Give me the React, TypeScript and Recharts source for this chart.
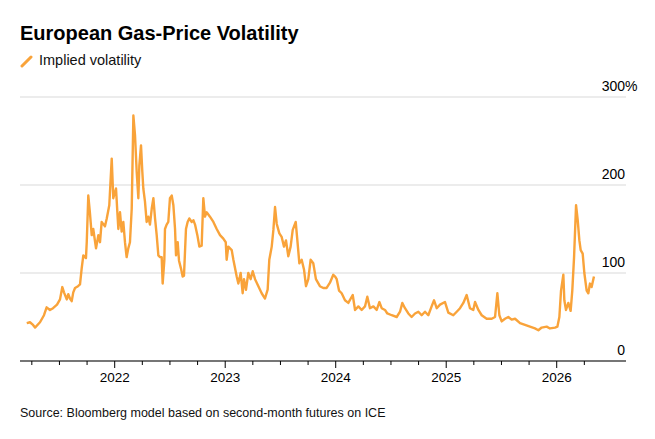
import React from 'react';
import { LineChart, Line, XAxis, YAxis, CartesianGrid } from 'recharts';

// implied volatility (%); dates are decimal years
const dates2021 = [2021.204, 2021.233, 2021.261, 2021.279, 2021.324, 2021.36, 2021.384, 2021.414, 2021.442, 2021.46, 2021.478, 2021.505, 2021.526, 2021.541, 2021.566, 2021.58, 2021.595, 2021.611, 2021.625, 2021.641, 2021.668, 2021.686, 2021.701, 2021.716, 2021.74, 2021.747, 2021.761, 2021.776, 2021.792, 2021.806, 2021.831, 2021.852, 2021.867, 2021.882, 2021.912, 2021.928, 2021.951, 2021.973, 2021.987];
const vol2021 = [43, 44, 41, 38, 44, 52, 61, 58, 60, 62, 64, 70, 84, 78, 70, 76, 71, 68, 78, 83, 85, 87, 105, 120, 117, 135, 188, 168, 143, 150, 128, 143, 135, 158, 153, 162, 177, 230, 185];

const dates2022 = [2022.012, 2022.024, 2022.033, 2022.048, 2022.063, 2022.078, 2022.093, 2022.108, 2022.123, 2022.138, 2022.154, 2022.169, 2022.184, 2022.199, 2022.214, 2022.223, 2022.238, 2022.25, 2022.259, 2022.274, 2022.289, 2022.304, 2022.319, 2022.335, 2022.35, 2022.365, 2022.38, 2022.395, 2022.41, 2022.425, 2022.434, 2022.449, 2022.455, 2022.47, 2022.485, 2022.5, 2022.516, 2022.531, 2022.546, 2022.555, 2022.57, 2022.582, 2022.6, 2022.615, 2022.627, 2022.645, 2022.66, 2022.675, 2022.697, 2022.712, 2022.727, 2022.748, 2022.766, 2022.787, 2022.802, 2022.817, 2022.832, 2022.862, 2022.893, 2022.923, 2022.953, 2022.983];
const vol2022 = [196, 169, 150, 169, 147, 158, 135, 118, 128, 135, 173, 279, 256, 215, 185, 222, 245, 215, 196, 181, 158, 164, 155, 173, 185, 162, 143, 120, 118, 118, 88, 114, 150, 155, 158, 185, 188, 177, 150, 120, 135, 114, 105, 96, 97, 150, 158, 162, 158, 160, 155, 143, 130, 131, 185, 164, 169, 164, 158, 150, 143, 139];

const dates2023 = [2023.005, 2023.013, 2023.028, 2023.059, 2023.074, 2023.104, 2023.119, 2023.14, 2023.158, 2023.17, 2023.188, 2023.209, 2023.23, 2023.249, 2023.27, 2023.3, 2023.33, 2023.36, 2023.384, 2023.399, 2023.421, 2023.436, 2023.451, 2023.466, 2023.49, 2023.511, 2023.532, 2023.55, 2023.571, 2023.592, 2023.611, 2023.638, 2023.653, 2023.671, 2023.692, 2023.713, 2023.731, 2023.752, 2023.773, 2023.797, 2023.821, 2023.857, 2023.888, 2023.918, 2023.948, 2023.978, 2023.995];
const vol2023 = [135, 115, 130, 126, 115, 96, 88, 100, 77, 93, 81, 100, 93, 102, 93, 85, 77, 71, 81, 115, 130, 149, 175, 156, 145, 141, 130, 137, 119, 130, 149, 158, 137, 111, 115, 104, 85, 93, 115, 111, 93, 85, 83, 83, 89, 98, 96];

const dates2024 = [2024.009, 2024.03, 2024.054, 2024.084, 2024.114, 2024.154, 2024.175, 2024.205, 2024.235, 2024.265, 2024.286, 2024.31, 2024.341, 2024.371, 2024.395, 2024.416, 2024.446, 2024.467, 2024.507, 2024.552, 2024.582, 2024.603, 2024.627, 2024.657, 2024.687, 2024.718, 2024.748, 2024.778, 2024.808, 2024.838, 2024.868, 2024.89, 2024.914, 2024.944, 2024.989];
const vol2024 = [93, 80, 77, 69, 66, 75, 58, 62, 58, 62, 73, 60, 62, 58, 67, 60, 58, 54, 52, 50, 56, 66, 60, 54, 50, 54, 56, 52, 56, 52, 62, 69, 60, 64, 67];

const dates2025 = [2025.019, 2025.064, 2025.095, 2025.125, 2025.155, 2025.185, 2025.215, 2025.245, 2025.261, 2025.291, 2025.321, 2025.366, 2025.412, 2025.442, 2025.463, 2025.481, 2025.502, 2025.532, 2025.562, 2025.592, 2025.623, 2025.668, 2025.713, 2025.758, 2025.803, 2025.834, 2025.864, 2025.909, 2025.939, 2025.985];
const vol2025 = [55, 52, 56, 60, 66, 75, 60, 58, 67, 58, 52, 48, 48, 50, 77, 52, 45, 48, 50, 47, 48, 43, 41, 39, 37, 35, 38, 39, 37, 38];

const dates2026 = [2026.006, 2026.024, 2026.039, 2026.06, 2026.069, 2026.084, 2026.105, 2026.126, 2026.141, 2026.157, 2026.175, 2026.19, 2026.205, 2026.217, 2026.235, 2026.25, 2026.271, 2026.286, 2026.301, 2026.316, 2026.337];
const vol2026 = [39, 50, 80, 98, 69, 58, 66, 57, 80, 118, 177, 160, 137, 126, 122, 100, 80, 77, 88, 84, 96];

const quarterTicks = [
  2021.25, 2021.5, 2021.75, 2022, 2022.25, 2022.5, 2022.75, 2023, 2023.25, 2023.5, 2023.75,
  2024, 2024.25, 2024.5, 2024.75, 2025, 2025.25, 2025.5, 2025.75, 2026, 2026.25,
];
const yTicks = [0, 100, 200, 300];

const allDates = [...dates2021, ...dates2022, ...dates2023, ...dates2024, ...dates2025, ...dates2026];
const allVols = [...vol2021, ...vol2022, ...vol2023, ...vol2024, ...vol2025, ...vol2026];
const data = allDates.map((t, i) => ({ t, v: allVols[i] }));

const FONT = '"Liberation Sans", Arial, Helvetica, sans-serif';
const ORANGE = '#f9a33a';

function DateTick(props: any) {
  const { x, y, payload } = props;
  const isYear = Number.isInteger(payload.value);
  return (
    <g>
      <line x1={x} x2={x} y1={y} y2={y + (isYear ? 7 : 4)} stroke="#000" strokeWidth={1} />
      {isYear && (
        <text x={x} y={y + 21} textAnchor="middle" fontSize={13.5} fill="#000" fontFamily={FONT}>
          {payload.value}
        </text>
      )}
    </g>
  );
}

function PctTick(props: any) {
  const { x, y, payload } = props;
  return (
    <g fontFamily={FONT} fontSize={14} fill="#000">
      <text x={x - 1} y={y - 6} textAnchor="end">{payload.value}</text>
      {payload.value === 300 && <text x={x - 1} y={y - 6} textAnchor="start">%</text>}
    </g>
  );
}

export default function App() {
  return (
    <div style={{ position: 'relative', width: 655, height: 439, background: '#fff', fontFamily: FONT, color: '#000' }}>
      <style>{'body{margin:0}'}</style>
      <div style={{ position: 'absolute', left: 20, top: 23, fontSize: 20, lineHeight: '20px', fontWeight: 700, whiteSpace: 'nowrap' }}>
        European Gas-Price Volatility
      </div>
      <div style={{ position: 'absolute', left: 20, top: 52, height: 16, display: 'flex', alignItems: 'center' }}>
        <svg width={14} height={14} style={{ position: 'absolute', left: 0, top: 2 }}>
          <line x1={2} y1={12} x2={11} y2={3} stroke={ORANGE} strokeWidth={3} strokeLinecap="round" />
        </svg>
        <span style={{ position: 'absolute', left: 19, top: 1, fontSize: 14.5, lineHeight: '14.5px', whiteSpace: 'nowrap', color: '#111' }}>
          Implied volatility
        </span>
      </div>
      <div style={{ position: 'absolute', left: 0, top: 0 }}>
        <LineChart width={655} height={439} data={data} margin={{ top: 97, right: 0, bottom: 48, left: 20 }}>
          <CartesianGrid vertical={false} stroke="#d9d9d9" strokeWidth={1} />
          <XAxis
            dataKey="t"
            type="number"
            domain={[2021.143, 2026.627]}
            ticks={quarterTicks}
            interval={0}
            height={30}
            tickSize={0}
            tickMargin={0}
            tickLine={false}
            axisLine={{ stroke: '#000', strokeWidth: 1 }}
            tick={<DateTick />}
            allowDataOverflow
          />
          <YAxis
            orientation="right"
            domain={[0, 300]}
            ticks={yTicks}
            width={29}
            tickSize={0}
            tickMargin={0}
            tickLine={false}
            axisLine={false}
            tick={<PctTick />}
          />
          <Line
            type="linear"
            dataKey="v"
            stroke={ORANGE}
            strokeWidth={2.4}
            strokeLinejoin="round"
            dot={false}
            isAnimationActive={false}
          />
        </LineChart>
      </div>
      <div style={{ position: 'absolute', left: 20, top: 407, fontSize: 12.5, lineHeight: '12.5px', whiteSpace: 'nowrap', color: '#111' }}>
        Source: Bloomberg model based on second-month futures on ICE
      </div>
    </div>
  );
}
